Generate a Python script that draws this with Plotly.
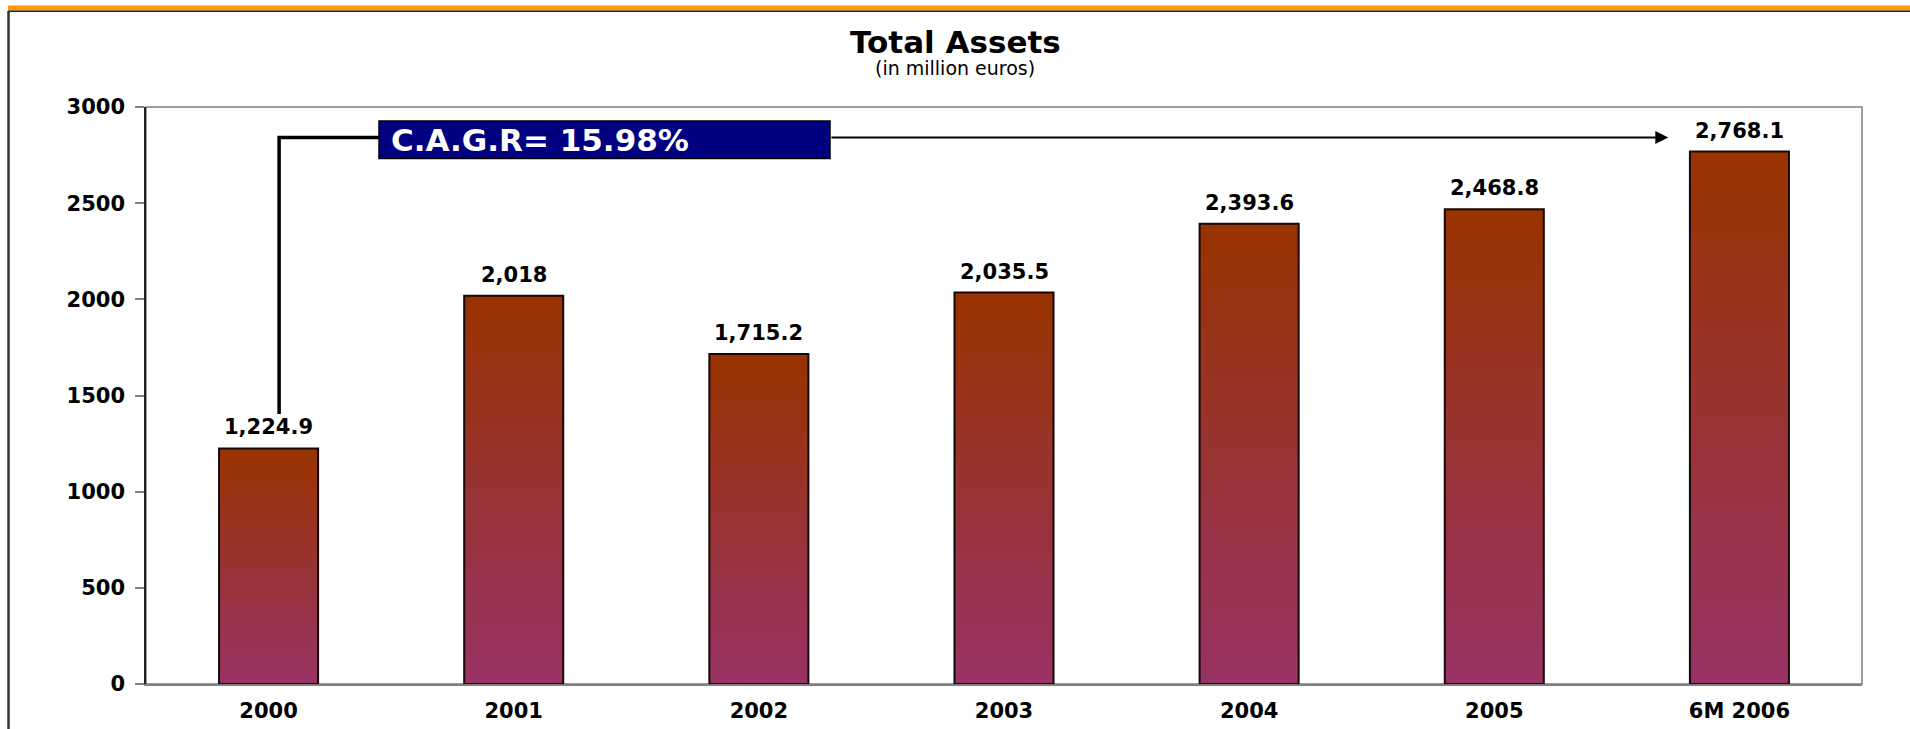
import plotly.graph_objects as go

# Total assets by period (million euros)
categories = ["2000", "2001", "2002", "2003", "2004", "2005", "6M 2006"]
total_assets = [1224.9, 2018.0, 1715.2, 2035.5, 2393.6, 2468.8, 2768.1]
y_ticks = [0, 500, 1000, 1500, 2000, 2500, 3000]
cagr_text = "C.A.G.R= 15.98%"

W, H = 1910, 729
L, R, T, B = 146, 48, 107, 45
PW, PH = W - L - R, H - T - B

BAR_W = 0.404
BOTTOM_RGB = (153, 51, 102)   # #993366
TOP_RGB = (153, 51, 0)        # #993300
N_STEPS = 60
BOLD = "DejaVu Sans"
LABEL_SIZE = 21

x_pos = list(range(len(categories)))


def px_x(p):
    return (p - L) / PW


def px_y(p):
    return (H - B - p) / PH


def label(v):
    s = f"{v:,.1f}"
    return s[:-2] if s.endswith(".0") else s


fig = go.Figure()

# vertical colour gradient inside each bar: every step runs from its base up to
# the bar top and is painted over by the next one, so no seams show
for k in range(N_STEPS):
    t = (k + 0.5) / N_STEPS
    c = tuple(round(b + (tp - b) * t) for b, tp in zip(BOTTOM_RGB, TOP_RGB))
    fig.add_trace(go.Bar(
        x=x_pos,
        y=[v * (1 - k / N_STEPS) for v in total_assets],
        base=[v * k / N_STEPS for v in total_assets],
        width=BAR_W,
        marker=dict(color=f"rgb{c}", line=dict(width=0)),
        hoverinfo="skip",
        showlegend=False,
    ))

# bar outlines
fig.add_trace(go.Bar(
    x=x_pos,
    y=total_assets,
    width=BAR_W,
    marker=dict(color="rgba(0,0,0,0)", line=dict(color="#140808", width=2)),
    hoverinfo="skip",
    showlegend=False,
))

annotations = []
for xi, v in zip(x_pos, total_assets):
    annotations.append(dict(
        x=xi, y=v, xref="x", yref="y", text=f"<b>{label(v)}</b>",
        showarrow=False, yanchor="middle", yshift=21,
        font=dict(family=BOLD, size=LABEL_SIZE, color="#000000"),
    ))

# titles
annotations.append(dict(
    x=px_x(955), y=px_y(42), xref="paper", yref="paper",
    text="<b>Total Assets</b>", showarrow=False, xanchor="center", yanchor="middle",
    font=dict(family=BOLD, size=31, color="#000000"),
))
annotations.append(dict(
    x=px_x(955), y=px_y(68), xref="paper", yref="paper",
    text="(in million euros)", showarrow=False, xanchor="center", yanchor="middle",
    font=dict(family="DejaVu Sans", size=19, color="#000000"),
))

# growth-rate label (box drawn as a shape below)
annotations.append(dict(
    x=px_x(389), y=px_y(140), xref="paper", yref="paper",
    xanchor="left", yanchor="middle",
    text=f"<b>{cagr_text}</b>", showarrow=False, align="left",
    font=dict(family=BOLD, size=31, color="#ffffff"),
))

# arrow towards the latest bar
annotations.append(dict(
    x=5.71, y=2842, xref="x", yref="y",
    ax=2.29, ay=2842, axref="x", ayref="y",
    text="", showarrow=True, arrowhead=2, arrowsize=1.3, arrowwidth=2,
    arrowcolor="#000000", standoff=0,
))

shapes = [
    # plot border
    dict(type="rect", xref="paper", yref="paper", x0=0, x1=1, y0=0, y1=1,
         line=dict(color="#7f7f7f", width=1.5), layer="below"),
    # connector from the first bar to the box
    dict(type="path", xref="x", yref="y",
         path="M 0.043,1404 L 0.043,2842 L 0.45,2842",
         line=dict(color="#000000", width=3.5)),
    # growth-rate box
    dict(type="rect", xref="paper", yref="paper",
         x0=px_x(379), x1=px_x(830), y0=px_y(158.5), y1=px_y(121),
         fillcolor="#000080", line=dict(color="#000000", width=1.5)),
    # page frame: orange band on top, dark rule on the left
    dict(type="rect", xref="paper", yref="paper",
         x0=px_x(8), x1=px_x(W + 5), y0=px_y(10.5), y1=px_y(5.5),
         fillcolor="#ff9a00", line=dict(width=0)),
    dict(type="line", xref="paper", yref="paper",
         x0=px_x(8), x1=px_x(W + 5), y0=px_y(11.3), y1=px_y(11.3),
         line=dict(color="#222222", width=1.5)),
    dict(type="line", xref="paper", yref="paper",
         x0=px_x(8.5), x1=px_x(8.5), y0=px_y(11), y1=px_y(H + 5),
         line=dict(color="#333333", width=2.5)),
]

fig.update_layout(
    width=W, height=H,
    margin=dict(l=L, r=R, t=T, b=B, pad=0, autoexpand=False),
    paper_bgcolor="#ffffff", plot_bgcolor="#ffffff",
    barmode="overlay",
    showlegend=False,
    annotations=annotations,
    shapes=shapes,
    xaxis=dict(
        range=[-0.5, len(categories) - 0.5],
        tickvals=x_pos, ticktext=[f"<b>{c}</b>" for c in categories],
        showgrid=False, zeroline=False,
        showline=True, linecolor="#7f7f7f", linewidth=1.5,
        ticks="", ticklabelstandoff=7, automargin=False,
        tickfont=dict(family=BOLD, size=LABEL_SIZE, color="#000000"),
        fixedrange=True,
    ),
    yaxis=dict(
        range=[0, 3000], tickvals=y_ticks, ticktext=[f"<b>{v}</b>" for v in y_ticks],
        showgrid=False, zeroline=False,
        showline=True, linecolor="#202020", linewidth=1.5,
        ticks="outside", ticklen=9, tickcolor="#7f7f7f", tickwidth=1.5,
        ticklabelstandoff=6, automargin=False,
        tickfont=dict(family=BOLD, size=LABEL_SIZE, color="#000000"),
        fixedrange=True,
    ),
)

fig.write_html("out.html", config={"displayModeBar": False})
